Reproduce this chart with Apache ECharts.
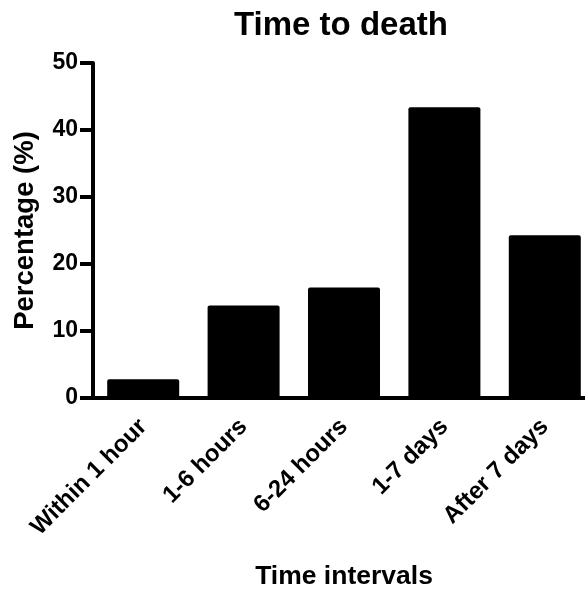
<!DOCTYPE html>
<html>
<head>
<meta charset="utf-8">
<script src="https://cdn.jsdelivr.net/npm/echarts@6/dist/echarts.min.js"></script>
<style>
  html, body { margin: 0; padding: 0; background: #fff; }
  #chart { width: 585px; height: 589px; }
</style>
</head>
<body>
<div id="chart"></div>
<script>
// data
const categories = ['Within 1 hour', '1-6 hours', '6-24 hours', '1-7 days', 'After 7 days'];
const percentages = [2.8, 13.8, 16.5, 43.4, 24.3];
const yTicks = [0, 10, 20, 30, 40, 50];

const FONT = '"Liberation Sans", Arial, sans-serif';

const chart = echarts.init(document.getElementById('chart'), null, { renderer: 'canvas' });

const option = {
  backgroundColor: '#ffffff',
  animation: false,
  title: {
    text: 'Time to death',
    left: 229,
    top: 4,
    textStyle: { fontFamily: FONT, fontWeight: 'bold', fontSize: 33, color: '#000' },
  },
  grid: {
    left: 93,
    right: -10,
    top: 63,
    bottom: 191,
    containLabel: false,
    outerBoundsMode: 'none', // v6: keep labels from squeezing the plot
  },
  xAxis: {
    type: 'category',
    data: categories,
    name: 'Time intervals',
    nameLocation: 'middle',
    nameGap: 165,
    nameTextStyle: { fontFamily: FONT, fontWeight: 'bold', fontSize: 26.5, color: '#000' },
    axisLine: { lineStyle: { color: '#000', width: 4 } },
    axisTick: { alignWithLabel: true, length: 13, lineStyle: { color: '#000', width: 4 } },
    axisLabel: {
      interval: 0,
      rotate: 45,
      margin: 25,
      fontFamily: FONT,
      fontWeight: 'bold',
      fontSize: 24,
      color: '#000',
    },
  },
  yAxis: {
    type: 'value',
    min: yTicks[0],
    max: yTicks[yTicks.length - 1],
    interval: 10,
    name: 'Percentage (%)',
    nameLocation: 'middle',
    nameGap: 54,
    nameRotate: 90,
    nameTextStyle: { fontFamily: FONT, fontWeight: 'bold', fontSize: 27.5, color: '#000' },
    axisLine: { show: true, lineStyle: { color: '#000', width: 4 } },
    axisTick: { show: true, length: 13, lineStyle: { color: '#000', width: 4 } },
    axisLabel: { margin: 15, fontFamily: FONT, fontWeight: 'bold', fontSize: 23, color: '#000' },
    splitLine: { show: false },
  },
  series: [
    {
      type: 'bar',
      data: percentages,
      barWidth: 72,
      itemStyle: { color: '#000', borderRadius: [2, 2, 0, 0] },
    },
  ],
};

chart.setOption(option);
</script>
</body>
</html>
